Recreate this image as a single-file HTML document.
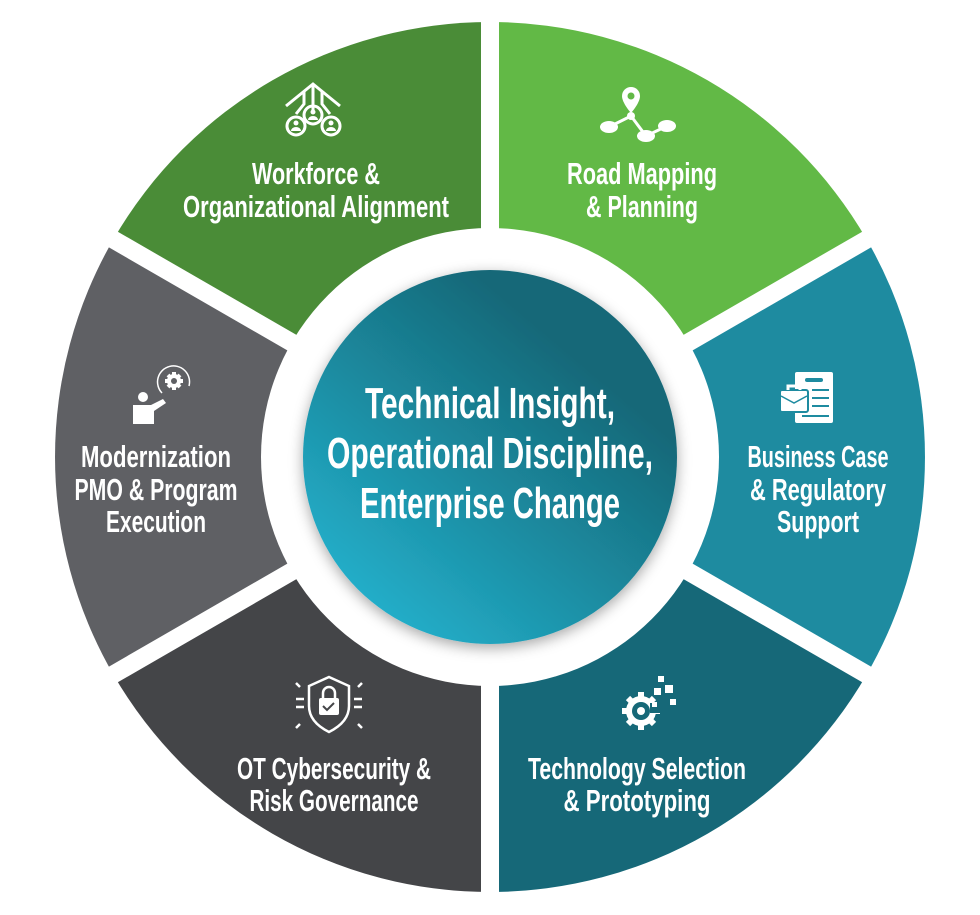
<!DOCTYPE html>
<html><head><meta charset="utf-8"><style>
html,body{margin:0;padding:0;background:#fff;width:980px;height:915px;overflow:hidden;}
svg{display:block;}
text{font-family:"Liberation Sans Narrow","Liberation Sans",sans-serif;font-weight:bold;fill:#fff;text-anchor:middle;}
</style></head><body>
<svg width="980" height="915" viewBox="0 0 980 915" xmlns="http://www.w3.org/2000/svg">
<defs>
<linearGradient id="cg" x1="0.2" y1="0.9" x2="0.75" y2="0.25">
<stop offset="0" stop-color="#23adc8"/><stop offset="0.5" stop-color="#1b8a9f"/><stop offset="1" stop-color="#166878"/>
</linearGradient>
<filter id="sh" x="-20%" y="-20%" width="140%" height="140%"><feDropShadow dx="0" dy="4" stdDeviation="7" flood-color="#000" flood-opacity="0.35"/></filter>
</defs>
<path d="M490 457 L113.3 239.5 A435 435 0 0 1 490 22 Z" fill="#4a8c37"/>
<path d="M490 457 L490 22 A435 435 0 0 1 866.7 239.5 Z" fill="#62b946"/>
<path d="M490 457 L866.7 239.5 A435 435 0 0 1 866.7 674.5 Z" fill="#1e8ba0"/>
<path d="M490 457 L866.7 674.5 A435 435 0 0 1 490 892 Z" fill="#166878"/>
<path d="M490 457 L490 892 A435 435 0 0 1 113.3 674.5 Z" fill="#444548"/>
<path d="M490 457 L113.3 674.5 A435 435 0 0 1 113.3 239.5 Z" fill="#5f6064"/>
<g stroke="#fff" stroke-width="18">
<line x1="490" y1="15" x2="490" y2="900"/>
<line x1="104.6" y1="234.5" x2="875.4" y2="679.5"/>
<line x1="104.6" y1="679.5" x2="875.4" y2="234.5"/>
</g>
<circle cx="490" cy="457" r="229" fill="#fff"/>
<circle cx="490" cy="457" r="187" fill="url(#cg)" filter="url(#sh)"/>
<text font-size="44" x="490" y="418" textLength="250" lengthAdjust="spacingAndGlyphs">Technical Insight,</text>
<text font-size="44" x="490" y="468" textLength="326" lengthAdjust="spacingAndGlyphs">Operational Discipline,</text>
<text font-size="44" x="490" y="518" textLength="260" lengthAdjust="spacingAndGlyphs">Enterprise Change</text>

<g font-size="31">
<text x="316" y="184" textLength="128" lengthAdjust="spacingAndGlyphs">Workforce &amp;</text>
<text x="316" y="217" textLength="266" lengthAdjust="spacingAndGlyphs">Organizational Alignment</text>
<text x="642" y="184" textLength="150" lengthAdjust="spacingAndGlyphs">Road Mapping</text>
<text x="642" y="217" textLength="112" lengthAdjust="spacingAndGlyphs">&amp; Planning</text>
<text x="818" y="467" textLength="141" lengthAdjust="spacingAndGlyphs">Business Case</text>
<text x="818" y="500" textLength="136" lengthAdjust="spacingAndGlyphs">&amp; Regulatory</text>
<text x="818" y="532" textLength="82" lengthAdjust="spacingAndGlyphs">Support</text>
<text x="156" y="467" textLength="150" lengthAdjust="spacingAndGlyphs">Modernization</text>
<text x="156" y="500" textLength="163" lengthAdjust="spacingAndGlyphs">PMO &amp; Program</text>
<text x="156" y="532" textLength="100" lengthAdjust="spacingAndGlyphs">Execution</text>
<text x="334" y="779" textLength="194" lengthAdjust="spacingAndGlyphs">OT Cybersecurity &amp;</text>
<text x="334" y="811" textLength="169" lengthAdjust="spacingAndGlyphs">Risk Governance</text>
<text x="637" y="779" textLength="218" lengthAdjust="spacingAndGlyphs">Technology Selection</text>
<text x="637" y="811" textLength="147" lengthAdjust="spacingAndGlyphs">&amp; Prototyping</text>
</g>

<!-- Workforce icon -->
<g fill="none" stroke="#fff" stroke-width="3">
<polyline points="286,106 313,84 340,106"/>
<path d="M313 86 V110 M304 92 V104 L296 114 M322 92 V104 L330 114"/>
<circle cx="296" cy="126" r="9"/><circle cx="313" cy="115" r="9"/><circle cx="331" cy="126" r="9"/>
</g>
<g fill="#fff"><circle cx="296" cy="123" r="2.5"/><circle cx="313" cy="112" r="2.5"/><circle cx="331" cy="123" r="2.5"/>
<path d="M291 131 a5 4 0 0 1 10 0Z M308 120 a5 4 0 0 1 10 0Z M326 131 a5 4 0 0 1 10 0Z"/></g>

<!-- Road icon -->
<g fill="#fff">
<path d="M631 87 a9 9 0 0 1 9 9 c0 7 -9 17 -9 17 c0 0 -9 -10 -9 -17 a9 9 0 0 1 9 -9z"/>
<ellipse cx="609" cy="127" rx="9" ry="6"/><ellipse cx="646" cy="136" rx="9" ry="6"/><ellipse cx="667" cy="126" rx="9" ry="6"/>
<circle cx="631" cy="116" r="4"/>
</g>
<circle cx="631" cy="96" r="3.5" fill="#62b946"/>
<polyline points="609,127 631,116 646,136 667,126" fill="none" stroke="#fff" stroke-width="3"/>

<!-- Business icon -->
<g>
<rect x="795" y="372" width="38" height="51" rx="2" fill="#fff"/>
<rect x="805" y="378" width="18" height="4" rx="2" fill="#1e8ba0"/>
<g stroke="#1e8ba0" stroke-width="2"><line x1="812" y1="390" x2="829" y2="390"/><line x1="812" y1="398" x2="829" y2="398"/><line x1="812" y1="406" x2="829" y2="406"/><line x1="802" y1="416" x2="829" y2="416"/></g>
<rect x="780" y="390" width="28" height="22" rx="2" fill="#fff" stroke="#1e8ba0" stroke-width="2"/>
<path d="M788 390 v-4 h12 v4" fill="none" stroke="#fff" stroke-width="3"/>
<path d="M781 396 L794 403 L807 396" fill="none" stroke="#1e8ba0" stroke-width="1.5"/>
</g>

<!-- Modernization icon -->
<g fill="#fff">
<circle cx="143" cy="397" r="5"/>
<path d="M133 405 h18 l12 -6 l3 4 l-12 8 v13 h-21z"/>
<circle cx="174" cy="381" r="7"/>
<g stroke="#fff" stroke-width="4"><line x1="174" y1="372" x2="174" y2="390"/><line x1="165" y1="381" x2="183" y2="381"/><line x1="168" y1="375" x2="180" y2="387"/><line x1="180" y1="375" x2="168" y2="387"/></g>
</g>
<circle cx="174" cy="381" r="3" fill="#5f6064"/>
<path d="M162 393 a16 16 0 1 1 27 -7" fill="none" stroke="#fff" stroke-width="1.5"/>

<!-- OT shield -->
<g fill="none" stroke="#fff" stroke-width="2.5">
<path d="M329 677 L349 686 V706 C349 719 339 727 329 732 C319 727 309 719 309 706 V686 Z"/>
<path d="M323 698 v-5 a6 6 0 0 1 12 0 v5"/>
<path d="M296 683 l4 4 M362 683 l-4 4 M296 728 l4 -4 M362 728 l-4 -4 M296 699 h8 M296 707 h8 M354 699 h8 M354 707 h8"/>
</g>
<rect x="319" y="698" width="20" height="17" rx="2" fill="#fff"/>
<path d="M323 706 l4 4 l7 -7" fill="none" stroke="#444548" stroke-width="2"/>

<!-- Tech gear -->
<g fill="#fff">
<circle cx="641" cy="711" r="15"/>
<g stroke="#fff" stroke-width="6"><line x1="641" y1="692" x2="641" y2="730"/><line x1="622" y1="711" x2="660" y2="711"/><line x1="628" y1="698" x2="654" y2="724"/><line x1="654" y1="698" x2="628" y2="724"/></g>
<rect x="658" y="676" width="6" height="6"/><rect x="654" y="688" width="7" height="7"/><rect x="665" y="685" width="8" height="8"/><rect x="670" y="699" width="6" height="6"/><rect x="651" y="704" width="5" height="5"/>
</g>
<circle cx="641" cy="711" r="9" fill="#166878"/>
<circle cx="641" cy="711" r="4" fill="#fff"/>
<rect x="650" y="703" width="12" height="10" fill="#166878"/>
<rect x="652" y="702" width="5" height="5" fill="#fff"/>
</svg>
</body></html>
